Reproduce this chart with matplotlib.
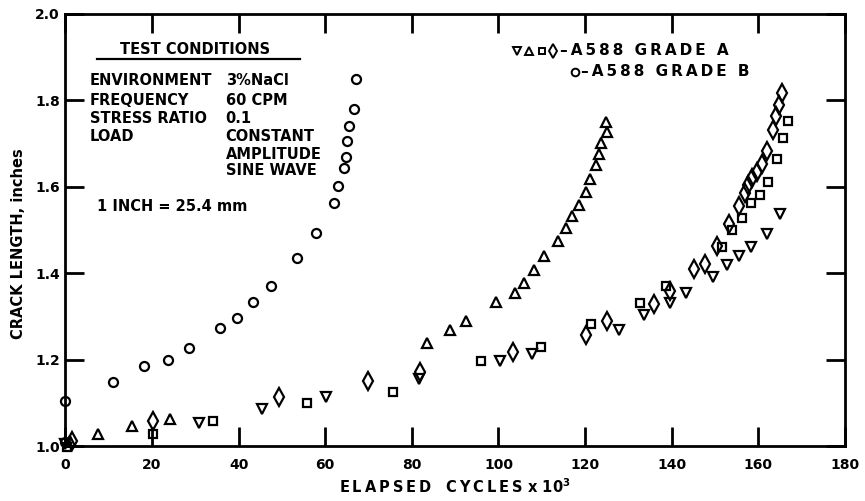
import matplotlib
matplotlib.use("Agg")
import matplotlib.pyplot as plt

# Crack growth data, elapsed cycles in thousands vs crack length in inches
# A588 Grade A specimens
cycles_down = [0.0, 30.9, 45.5, 60.1, 81.7, 100.3, 107.8, 127.8, 133.5, 139.7,
               143.2, 149.5, 152.8, 155.6, 158.3, 161.9, 164.9]
crack_down = [1.005, 1.054, 1.086, 1.115, 1.155, 1.198, 1.215, 1.269, 1.304, 1.332,
              1.354, 1.391, 1.420, 1.440, 1.462, 1.492, 1.537]

cycles_up = [1.0, 7.6, 15.3, 24.2, 83.4, 88.7, 92.4, 99.5, 103.7, 105.8, 108.1,
             110.5, 113.7, 115.7, 117.0, 118.7, 120.1, 121.2, 122.6, 123.3, 123.7,
             125.0, 124.9]
crack_up = [1.012, 1.028, 1.047, 1.064, 1.240, 1.269, 1.290, 1.335, 1.354, 1.377,
            1.408, 1.440, 1.474, 1.505, 1.533, 1.558, 1.589, 1.618, 1.651, 1.676,
            1.701, 1.728, 1.751]

cycles_sq = [0.5, 20.2, 34.0, 55.7, 75.7, 95.9, 109.9, 121.4, 132.7, 138.7, 151.7,
             154.0, 156.3, 158.3, 160.3, 162.2, 164.2, 165.6, 166.8]
crack_sq = [0.998, 1.028, 1.059, 1.100, 1.127, 1.198, 1.231, 1.283, 1.331, 1.371,
            1.461, 1.501, 1.528, 1.562, 1.582, 1.612, 1.664, 1.713, 1.753]

cycles_dia = [1.5, 20.2, 49.4, 69.8, 81.8, 103.3, 120.1, 125.1, 136.0, 139.7, 145.1,
              147.6, 150.5, 153.3, 155.5, 156.8, 157.6, 158.5, 159.6, 160.9, 162.0,
              163.3, 164.1, 164.7, 165.5]
crack_dia = [1.012, 1.059, 1.114, 1.151, 1.173, 1.219, 1.258, 1.290, 1.329, 1.360,
             1.410, 1.422, 1.463, 1.515, 1.555, 1.587, 1.605, 1.620, 1.635, 1.653,
             1.683, 1.732, 1.764, 1.790, 1.818]

# A588 Grade B specimen
cycles_circ = [0.0, 0.0, 10.9, 18.2, 23.8, 28.6, 35.8, 39.7, 43.4, 47.4, 53.6, 57.8,
               62.0, 63.0, 64.4, 64.9, 65.1, 65.5, 66.6, 67.1]
crack_circ = [1.010, 1.105, 1.148, 1.185, 1.201, 1.227, 1.275, 1.298, 1.335, 1.370,
              1.435, 1.493, 1.562, 1.603, 1.645, 1.670, 1.706, 1.742, 1.780, 1.849]

x_ticks = [0, 20, 40, 60, 80, 100, 120, 140, 160, 180]
y_ticks = [1.0, 1.2, 1.4, 1.6, 1.8, 2.0]

conditions = [
    ("ENVIRONMENT", "3%NaCl"),
    ("FREQUENCY", "60 CPM"),
    ("STRESS RATIO", "0.1"),
    ("LOAD", "CONSTANT"),
    ("", "AMPLITUDE"),
    ("", "SINE WAVE"),
]

grade_a_label = "\u2013A588 GRADE A"
grade_b_label = "\u2013A588 GRADE B"


def spaced(text):
    """Open up the lettering with thin spaces between characters."""
    return "\u2009".join(text)


plt.rcParams["font.family"] = ["DejaVu Sans"]
plt.rcParams["font.weight"] = "bold"

fig = plt.figure(figsize=(8.65, 5.01), dpi=100)
ax = fig.add_axes([0.0755, 0.1088, 0.9014, 0.8633])

common = dict(linestyle="none", mec="black", mfc="none", mew=1.6, clip_on=False)
ax.plot(cycles_down, crack_down, marker="v", ms=7.5, **common)
ax.plot(cycles_up, crack_up, marker="^", ms=7.5, **common)
ax.plot(cycles_sq, crack_sq, marker="s", ms=6.3, **common)
ax.plot(cycles_dia, crack_dia, marker="d", ms=9.0, **common)
ax.plot(cycles_circ, crack_circ, marker="o", ms=6.5, **common)

ax.set_xlim(0, 180)
ax.set_ylim(1.0, 2.0)
ax.set_xticks(x_ticks)
ax.set_yticks(y_ticks)
ax.set_xticklabels([str(t) for t in x_ticks], fontsize=10, fontweight="bold")
ax.set_yticklabels([f"{t:.1f}" for t in y_ticks], fontsize=10, fontweight="bold")
ax.tick_params(axis="both", direction="in", length=14, width=2.0,
               top=True, right=True, colors="black")
ax.tick_params(axis="x", pad=8)
ax.tick_params(axis="y", pad=4)
for s in ax.spines.values():
    s.set_linewidth(2.0)

ax.set_xlabel(spaced("ELAPSED") + "   " + spaced("CYCLES") + r" x 10$^{\mathbf{3}}$",
              fontsize=10.5, fontweight="bold")
ax.xaxis.set_label_coords(0.5, -0.072)
ax.set_ylabel("CRACK LENGTH, inches", fontsize=10.5, fontweight="bold")
ax.yaxis.set_label_coords(-0.05, 0.47)

# Test conditions block
ax.text(29.9, 1.917, "TEST CONDITIONS", fontsize=10.5, fontweight="bold",
        ha="center", va="center")
ax.plot([7.3, 54.1], [1.895, 1.895], color="black", lw=1.6)
row_y = [1.847, 1.801, 1.759, 1.716, 1.674, 1.637]
for (name, value), yy in zip(conditions, row_y):
    if name:
        ax.text(5.7, yy, name, fontsize=10.5, fontweight="bold", ha="left", va="center")
    ax.text(37.0, yy, value, fontsize=10.5, fontweight="bold", ha="left", va="center")
ax.text(7.3, 1.554, "1 INCH = 25.4 mm", fontsize=10.5, fontweight="bold",
        ha="left", va="center")

# Key for the specimen grades
key = dict(linestyle="none", mec="black", mfc="none", mew=1.4, transform=ax.transAxes)
ax.plot([0.579], [0.9145], marker="v", ms=6.0, **key)
ax.plot([0.595], [0.9145], marker="^", ms=6.0, **key)
ax.plot([0.611], [0.9145], marker="s", ms=5.0, **key)
ax.plot([0.626], [0.9145], marker="d", ms=7.0, **key)
ax.text(0.635, 0.9145, spaced(grade_a_label), fontsize=11, fontweight="bold",
        ha="left", va="center", transform=ax.transAxes)
ax.plot([0.654], [0.867], marker="o", ms=5.5, **key)
ax.text(0.662, 0.867, spaced(grade_b_label), fontsize=11, fontweight="bold",
        ha="left", va="center", transform=ax.transAxes)

fig.savefig("out.png", dpi=100)
